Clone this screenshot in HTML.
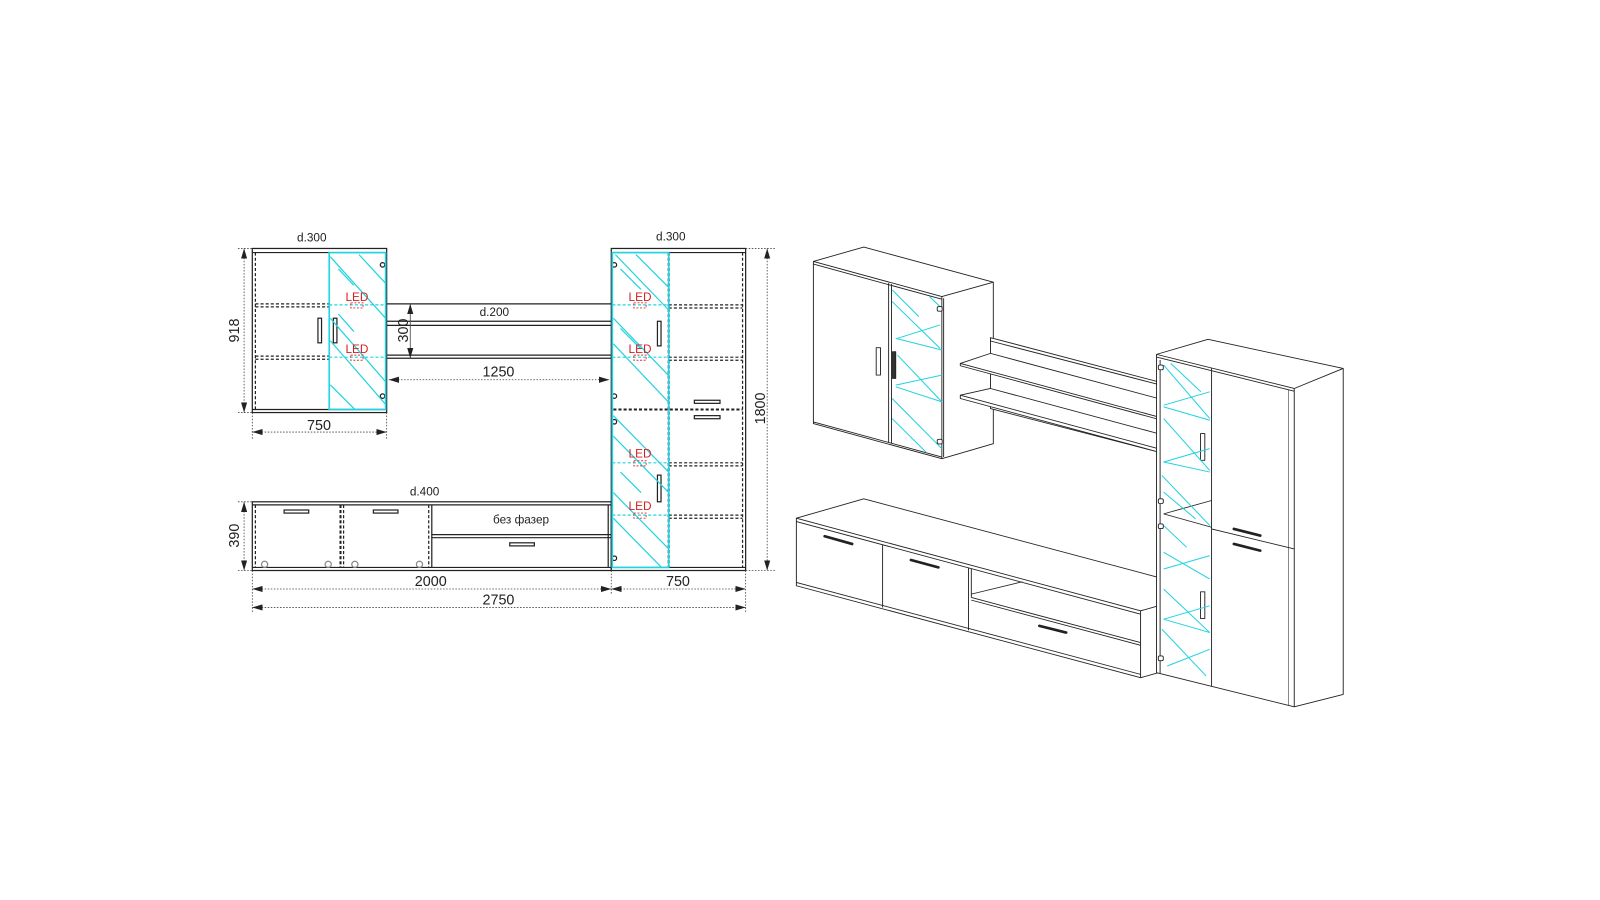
<!DOCTYPE html>
<html><head><meta charset="utf-8"><style>
html,body{margin:0;padding:0;background:#fff;}
svg{display:block}
text{font-family:"Liberation Sans",sans-serif;}
</style></head><body>
<svg width="1600" height="900" viewBox="0 0 1560 877" xmlns="http://www.w3.org/2000/svg">
<defs>
<marker id="ar" viewBox="0 0 10 6" refX="10" refY="3" markerWidth="10" markerHeight="6" orient="auto-start-reverse" markerUnits="userSpaceOnUse"><path d="M0,0 L10,3 L0,6 z" fill="#222"/></marker>
</defs>
<rect width="1560" height="877" fill="#fff"/>
<g fill="none" stroke="#222" stroke-width="1.2">
<rect x="246" y="242" width="131" height="160"/>
<line x1="246" y1="246" x2="377" y2="246"/>
<line x1="246" y1="399" x2="377" y2="399"/>
<g stroke-dasharray="3,2">
<line x1="249" y1="246" x2="249" y2="399"/><line x1="321" y1="246" x2="321" y2="399"/>
<line x1="249" y1="296" x2="321" y2="296"/><line x1="249" y1="299" x2="321" y2="299"/>
<line x1="249" y1="347" x2="321" y2="347"/><line x1="249" y1="350" x2="321" y2="350"/>
</g>
<line x1="377" y1="296" x2="596" y2="296"/>
<line x1="377" y1="313" x2="596" y2="313"/><line x1="377" y1="317" x2="596" y2="317"/>
<line x1="377" y1="346" x2="596" y2="346"/><line x1="377" y1="349" x2="596" y2="349"/>
<rect x="596" y="242" width="131" height="314"/>
<line x1="596" y1="246" x2="727" y2="246"/>
<line x1="596" y1="553" x2="727" y2="553"/>
<line x1="652" y1="246" x2="652" y2="553" stroke-dasharray="3,2" stroke-width="2"/>
<g stroke-dasharray="3,2">
<line x1="724" y1="246" x2="724" y2="553"/>
<line x1="652" y1="297" x2="724" y2="297"/><line x1="652" y1="300" x2="724" y2="300"/>
<line x1="652" y1="348" x2="724" y2="348"/><line x1="652" y1="351" x2="724" y2="351"/>
<line x1="598" y1="399" x2="724" y2="399" stroke-width="2"/>
<line x1="652" y1="451" x2="724" y2="451"/><line x1="652" y1="454" x2="724" y2="454"/>
<line x1="652" y1="502" x2="724" y2="502"/><line x1="652" y1="505" x2="724" y2="505"/>
</g>
<rect x="246" y="489" width="350" height="67"/>
<line x1="246" y1="492" x2="596" y2="492"/>
<line x1="246" y1="553" x2="596" y2="553"/>
<line x1="421" y1="492" x2="421" y2="553"/>
<line x1="421" y1="521" x2="596" y2="521"/><line x1="421" y1="524" x2="596" y2="524"/>
<line x1="593" y1="492" x2="593" y2="553"/>
<g stroke-dasharray="3,2">
<line x1="249" y1="492" x2="249" y2="553"/><line x1="332" y1="492" x2="332" y2="553" stroke-width="2"/>
<line x1="335" y1="492" x2="335" y2="553"/><line x1="418" y1="492" x2="418" y2="553"/>
</g>
<rect x="310" y="310" width="3.5" height="24"/><rect x="325" y="310" width="3.5" height="24"/>
<rect x="641" y="313" width="3.5" height="24"/><rect x="641" y="463" width="3.5" height="26"/>
<rect x="677" y="390" width="25" height="3"/><rect x="677" y="405" width="25" height="3"/>
<rect x="277" y="497" width="24" height="3"/><rect x="364" y="497" width="24" height="3"/><rect x="497" y="529" width="24" height="3"/>
<g stroke="#888"><circle cx="258" cy="550" r="3"/><circle cx="320" cy="550" r="3"/><circle cx="346" cy="550" r="3"/><circle cx="409" cy="550" r="3"/></g>
<circle cx="373" cy="258" r="2.2"/><circle cx="373" cy="386" r="2.2"/>
<circle cx="599" cy="258" r="2.2"/><circle cx="599" cy="386" r="2.2"/><circle cx="599" cy="411" r="2.2"/><circle cx="599" cy="544" r="2.2"/>
</g>
<g fill="none" stroke="#22d3e0" stroke-width="1.2">
<rect x="321" y="246" width="55" height="153" stroke-width="1.6"/>
<line x1="321" y1="297" x2="376" y2="297" stroke-dasharray="3,2"/><line x1="321" y1="348" x2="376" y2="348" stroke-dasharray="3,2"/>
<line x1="322" y1="250" x2="376" y2="310"/><line x1="330" y1="262" x2="345" y2="278"/><line x1="350" y1="248" x2="376" y2="276"/>
<line x1="322" y1="310" x2="376" y2="372"/><line x1="322" y1="332" x2="376" y2="394"/><line x1="322" y1="375" x2="346" y2="399"/><line x1="330" y1="306" x2="345" y2="323"/>
<rect x="597" y="246" width="55" height="307" stroke-width="1.6"/>
<line x1="597" y1="297" x2="652" y2="297" stroke-dasharray="3,2"/><line x1="597" y1="348" x2="652" y2="348" stroke-dasharray="3,2"/>
<line x1="597" y1="451" x2="652" y2="451" stroke-dasharray="3,2"/><line x1="597" y1="502" x2="652" y2="502" stroke-dasharray="3,2"/>
<line x1="600" y1="248" x2="652" y2="302"/><line x1="620" y1="248" x2="652" y2="280"/><line x1="605" y1="262" x2="625" y2="282"/>
<line x1="598" y1="310" x2="652" y2="366"/><line x1="598" y1="335" x2="652" y2="392"/><line x1="605" y1="320" x2="625" y2="340"/>
<line x1="598" y1="405" x2="652" y2="460"/><line x1="598" y1="425" x2="652" y2="480"/><line x1="605" y1="460" x2="625" y2="480"/>
<line x1="598" y1="505" x2="645" y2="553"/><line x1="598" y1="480" x2="652" y2="535"/>
</g>
<g fill="none" stroke="#d33" stroke-width="0.9" stroke-dasharray="2,1.5">
<rect x="342" y="295" width="12" height="5"/><rect x="342" y="346" width="12" height="5"/>
<rect x="618" y="295" width="12" height="5"/><rect x="618" y="346" width="12" height="5"/>
<rect x="618" y="449" width="12" height="5"/><rect x="618" y="500" width="12" height="5"/>
</g>
<g fill="#d42020" font-size="11.5" text-anchor="middle">
<text x="348" y="293">LED</text><text x="348" y="344">LED</text>
<text x="624" y="293">LED</text><text x="624" y="344">LED</text><text x="624" y="446">LED</text><text x="624" y="497">LED</text>
</g>
<g stroke="#444" stroke-width="0.8" fill="none">
<g stroke-dasharray="1.5,1.5">
<line x1="232" y1="242" x2="246" y2="242"/><line x1="232" y1="402" x2="246" y2="402"/>
<line x1="246" y1="402" x2="246" y2="428"/><line x1="377" y1="402" x2="377" y2="428"/>
<line x1="232" y1="489" x2="246" y2="489"/><line x1="232" y1="556" x2="246" y2="556"/>
<line x1="246" y1="556" x2="246" y2="598"/><line x1="596" y1="556" x2="596" y2="580"/><line x1="727" y1="556" x2="727" y2="598"/>
<line x1="727" y1="242" x2="756" y2="242"/><line x1="727" y1="556" x2="756" y2="556"/>
</g>
<line x1="238" y1="242" x2="238" y2="402" marker-start="url(#ar)" marker-end="url(#ar)" stroke-dasharray="1.5,1.5"/>
<line x1="246" y1="421" x2="377" y2="421" marker-start="url(#ar)" marker-end="url(#ar)" stroke-dasharray="1.5,1.5"/>
<line x1="379" y1="370" x2="594" y2="370" marker-start="url(#ar)" marker-end="url(#ar)" stroke-dasharray="1.5,1.5"/>
<line x1="400" y1="296" x2="400" y2="349" marker-start="url(#ar)" marker-end="url(#ar)"/>
<line x1="748" y1="242" x2="748" y2="556" marker-start="url(#ar)" marker-end="url(#ar)" stroke-dasharray="1.5,1.5"/>
<line x1="238" y1="489" x2="238" y2="556" marker-start="url(#ar)" marker-end="url(#ar)" stroke-dasharray="1.5,1.5"/>
<line x1="246" y1="574" x2="596" y2="574" marker-start="url(#ar)" marker-end="url(#ar)" stroke-dasharray="1.5,1.5"/>
<line x1="596" y1="574" x2="727" y2="574" marker-start="url(#ar)" marker-end="url(#ar)" stroke-dasharray="1.5,1.5"/>
<line x1="246" y1="592" x2="727" y2="592" marker-start="url(#ar)" marker-end="url(#ar)" stroke-dasharray="1.5,1.5"/>
</g>
<g fill="#222" font-size="11.5" text-anchor="middle">
<text x="304" y="235">d.300</text><text x="654" y="234">d.300</text>
<text x="482" y="308">d.200</text><text x="414" y="483">d.400</text>
<text x="508" y="510">без фазер</text>
</g>
<g fill="#222" font-size="14" text-anchor="middle">
<text x="311" y="419">750</text><text x="486" y="367">1250</text>
<text x="420" y="571">2000</text><text x="661" y="571">750</text><text x="486" y="589">2750</text>
<text transform="translate(233,322) rotate(-90)">918</text>
<text transform="translate(398,322) rotate(-90)">300</text>
<text transform="translate(746,398) rotate(-90)">1800</text>
<text transform="translate(233,522) rotate(-90)">390</text>
</g>

<g transform="translate(750.5,225.3) scale(0.346,0.326)" fill="#fff" stroke="#222" stroke-width="2.6" stroke-linejoin="round">
<polygon points="75,858 265,800 1095,1035 1095,1320 1045,1335 75,1060"/>
<polyline fill="none" points="75,858 1045,1135 1045,1335"/>
<line x1="75" y1="868" x2="1045" y2="1145"/>
<line x1="1045" y1="1135" x2="1095" y2="1120"/>
<line x1="75" y1="1050" x2="1045" y2="1325"/>
<line x1="318" y1="937" x2="318" y2="1125"/>
<line x1="560" y1="1006" x2="560" y2="1193"/>
<line x1="568" y1="1008" x2="568" y2="1095"/>
<line x1="568" y1="1095" x2="1045" y2="1230"/><line x1="568" y1="1103" x2="1045" y2="1238"/>
<line x1="568" y1="1085" x2="712" y2="1048"/>
<g stroke-width="8" stroke-linecap="round"><line x1="155" y1="912" x2="232" y2="935"/><line x1="398" y1="983" x2="475" y2="1005"/><line x1="760" y1="1180" x2="835" y2="1200"/></g>
<polygon points="123,90 265,47 630,152 630,635 485,680 123,575"/>
<polyline fill="none" points="123,90 485,195 630,152"/>
<line x1="123" y1="98" x2="485" y2="203"/>
<line x1="485" y1="195" x2="485" y2="680"/>
<line x1="123" y1="570" x2="485" y2="675"/>
<line x1="335" y1="155" x2="335" y2="632"/><line x1="343" y1="158" x2="343" y2="635"/>
<line x1="490" y1="200" x2="490" y2="675"/>
<rect x="300" y="348" width="12" height="82" fill="none"/>
<rect x="346" y="360" width="9" height="80" fill="#333"/>
<g fill="none" stroke="#22d3e0" stroke-width="3">
<line x1="345" y1="175" x2="420" y2="255"/><line x1="345" y1="210" x2="480" y2="350"/><line x1="360" y1="320" x2="480" y2="280"/><line x1="355" y1="320" x2="485" y2="355"/>
<line x1="360" y1="370" x2="485" y2="510"/><line x1="355" y1="460" x2="485" y2="430"/><line x1="355" y1="465" x2="485" y2="510"/><line x1="345" y1="500" x2="485" y2="650"/><line x1="345" y1="560" x2="440" y2="660"/><line x1="450" y1="195" x2="485" y2="230"/>
</g>
<polygon points="622,318 1095,450 1095,660 622,530"/>
<line x1="622" y1="328" x2="1095" y2="458"/>
<polygon points="537,395 622,365 1095,500 1095,562 537,402"/>
<line x1="537" y1="395" x2="1095" y2="555"/>
<polygon points="537,490 622,470 1095,605 1095,660 537,500"/>
<line x1="537" y1="490" x2="1095" y2="650"/>
<polygon points="1090,368 1235,323 1616,410 1616,1385 1478,1422 1090,1320"/>
<polyline fill="none" points="1090,368 1478,470 1616,410"/>
<line x1="1090" y1="376" x2="1478" y2="478"/>
<line x1="1478" y1="470" x2="1478" y2="1422"/>
<line x1="1462" y1="474" x2="1462" y2="1418" stroke-width="1.5"/>
<line x1="1245" y1="410" x2="1245" y2="1361"/>
<line x1="1100" y1="385" x2="1100" y2="1322"/>
<line x1="1245" y1="890" x2="1478" y2="950"/>
<line x1="1110" y1="845" x2="1245" y2="805"/><line x1="1110" y1="845" x2="1245" y2="885"/>
<rect x="1214" y="605" width="12" height="80" fill="none"/><rect x="1214" y="1078" width="12" height="80" fill="none"/>
<g stroke-width="8" stroke-linecap="round"><line x1="1308" y1="890" x2="1382" y2="910"/><line x1="1308" y1="935" x2="1382" y2="955"/></g>
<g fill="none" stroke="#22d3e0" stroke-width="3">
<line x1="1110" y1="400" x2="1240" y2="560"/><line x1="1130" y1="395" x2="1215" y2="480"/><line x1="1110" y1="520" x2="1240" y2="480"/><line x1="1110" y1="525" x2="1240" y2="565"/>
<line x1="1110" y1="560" x2="1240" y2="715"/><line x1="1110" y1="690" x2="1240" y2="650"/><line x1="1110" y1="690" x2="1240" y2="720"/>
<line x1="1105" y1="730" x2="1240" y2="880"/><line x1="1110" y1="780" x2="1200" y2="860"/>
<line x1="1110" y1="880" x2="1175" y2="945"/><line x1="1110" y1="960" x2="1240" y2="1040"/><line x1="1110" y1="1010" x2="1240" y2="970"/>
<line x1="1110" y1="1070" x2="1240" y2="1200"/><line x1="1110" y1="1160" x2="1240" y2="1120"/><line x1="1110" y1="1160" x2="1240" y2="1200"/>
<line x1="1105" y1="1190" x2="1230" y2="1330"/><line x1="1120" y1="1300" x2="1240" y2="1250"/>
</g>
<g fill="#fff"><rect x="1095" y="400" width="14" height="14" rx="4"/><rect x="1095" y="800" width="14" height="14" rx="4"/><rect x="1095" y="875" width="14" height="14" rx="4"/><rect x="1095" y="1270" width="14" height="14" rx="4"/>
<rect x="472" y="225" width="14" height="14" rx="4"/><rect x="472" y="622" width="14" height="14" rx="4"/></g>
</g>
</svg>
</body></html>
